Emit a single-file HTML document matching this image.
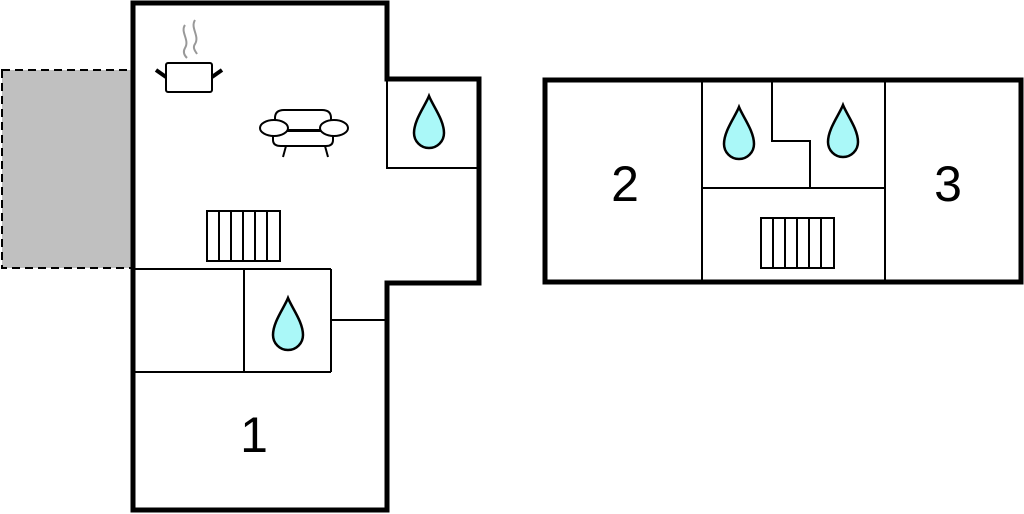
<!DOCTYPE html>
<html><head><style>html,body{margin:0;padding:0;background:#fff;}svg{display:block}</style></head>
<body>
<svg width="1024" height="514" viewBox="0 0 1024 514" xmlns="http://www.w3.org/2000/svg">
<defs>
<path id="drop" d="M0 0 C-4 10 -15 24 -15 37 A15 15 0 0 0 15 37 C15 24 4 10 0 0 Z" fill="#aaf8f8" stroke="#000" stroke-width="2.5"/>
<g id="rad" fill="none" stroke="#000" stroke-width="2">
<rect x="0" y="0" width="73" height="50"/>
<line x1="12" y1="0" x2="12" y2="50"/><line x1="24" y1="0" x2="24" y2="50"/><line x1="36" y1="0" x2="36" y2="50"/><line x1="48" y1="0" x2="48" y2="50"/><line x1="60" y1="0" x2="60" y2="50"/>
</g>
</defs>
<!-- grey terrace -->
<rect x="2" y="70" width="131" height="198" fill="#c0c0c0" stroke="#000" stroke-width="2" stroke-dasharray="8,5"/>
<!-- left building -->
<polygon points="133,3 387,3 387,79 479,79 479,283 387,283 387,510 133,510" fill="#fff" stroke="#000" stroke-width="5"/>
<g stroke="#000" stroke-width="2" fill="none">
<polyline points="387,79 387,168 479,168"/>
<line x1="133" y1="269" x2="331" y2="269"/>
<line x1="133" y1="372" x2="331" y2="372"/>
<line x1="244" y1="269" x2="244" y2="372"/>
<line x1="331" y1="269" x2="331" y2="372"/>
<line x1="331" y1="320" x2="387" y2="320"/>
</g>
<use href="#drop" x="429" y="96"/>
<use href="#drop" x="288" y="298"/>
<use href="#rad" x="207" y="211"/>
<!-- pot -->
<rect x="166" y="63" width="46" height="29" rx="2" fill="#fff" stroke="#000" stroke-width="2"/>
<line x1="156" y1="70" x2="166" y2="77" stroke="#000" stroke-width="4"/>
<line x1="222" y1="70" x2="212" y2="77" stroke="#000" stroke-width="4"/>
<path d="M185 25 C180 32 190 40 185 48 C182 53 186 57 187 58 M195 20 C190 28 200 36 195 44 C192 48 196 52 197 54" stroke="#999" stroke-width="2" fill="none"/>
<!-- sofa -->
<g stroke="#000" stroke-width="2" fill="#fff">
<path d="M275 130 L275 118 Q275 110 284 110 L322 110 Q331 110 331 118 L331 130 Z"/>
<path d="M273 131 L333 131 L333 140 Q333 146 326 146 L281 146 Q273 146 273 140 Z"/>
<ellipse cx="274" cy="128" rx="14" ry="8"/>
<ellipse cx="334" cy="128" rx="14" ry="8"/>
<line x1="286" y1="146" x2="283" y2="157"/>
<line x1="325" y1="146" x2="328" y2="157"/>
</g>
<!-- right building -->
<rect x="545" y="80" width="476" height="202" fill="#fff" stroke="#000" stroke-width="5"/>
<g stroke="#000" stroke-width="2" fill="none">
<line x1="702" y1="80" x2="702" y2="282"/>
<line x1="885" y1="80" x2="885" y2="282"/>
<line x1="702" y1="188" x2="885" y2="188"/>
<polyline points="772,80 772,141 810,141 810,188"/>
</g>
<use href="#drop" x="739" y="107"/>
<use href="#drop" x="843" y="105"/>
<use href="#rad" x="761" y="218"/>
<g font-family="Liberation Sans, sans-serif" font-size="50" text-anchor="middle" fill="#000">
<text x="625" y="201">2</text>
<text x="948" y="201">3</text>
<text x="254" y="452">1</text>
</g>
</svg>
</body></html>
